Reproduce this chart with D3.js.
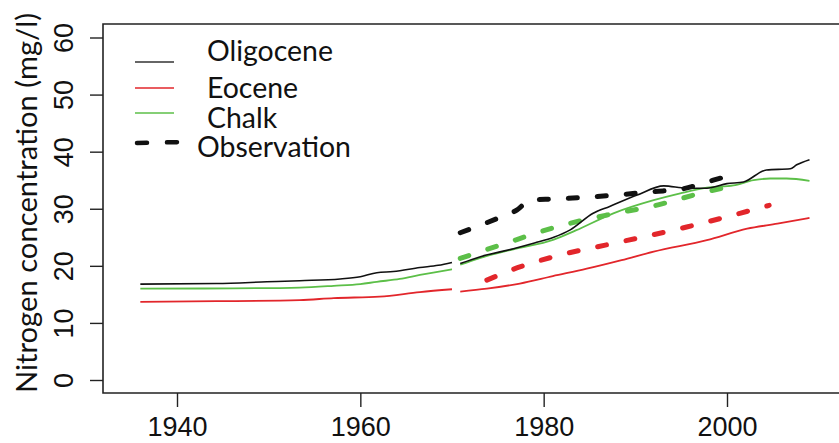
<!DOCTYPE html>
<html>
<head>
<meta charset="utf-8">
<script src="https://cdn.jsdelivr.net/npm/d3@7"></script>
<style>
  html, body { margin: 0; padding: 0; background: #fff; }
  svg { display: block; }
</style>
</head>
<body>
<svg id="chart" width="839" height="443"></svg>
<script>
// ---------- DATA ----------
const seriesNames = ["Oligocene", "Eocene", "Chalk"];
const seriesColors = ["#111111", "#e2262b", "#5cbf48"];

// Model simulations, period 1 (1936-1970)
const oligoceneEarlyYears = [1936, 1944.3, 1949.8, 1953.4, 1957.8, 1960, 1961.8, 1963.6, 1966.5, 1968.5, 1970];
const oligoceneEarly      = [16.8, 16.9, 17.2, 17.4, 17.7, 18.1, 18.8, 19.0, 19.7, 20.1, 20.6];
const eoceneEarlyYears    = [1936, 1944.3, 1953.4, 1957.1, 1962.1, 1966.5, 1970];
const eoceneEarly         = [13.7, 13.8, 14.0, 14.35, 14.6, 15.4, 15.9];
const chalkEarlyYears     = [1936, 1946.1, 1953.4, 1957.1, 1960, 1961.8, 1964.3, 1966.5, 1970];
const chalkEarly          = [16.0, 16.05, 16.2, 16.5, 16.8, 17.2, 17.7, 18.4, 19.4];

// Model simulations, period 2 (1971-2009)
const oligoceneLateYears = [1970.9, 1973.1, 1976.7, 1979.0, 1981.1, 1982.9, 1985.4, 1987.2, 1990.2, 1993.1, 1995.6, 1997.8, 2000.0, 2001.8, 2004.3, 2006.9, 2007.6, 2009.0];
const oligoceneLate      = [20.4, 21.6, 23.0, 24.0, 25.0, 26.3, 29.2, 30.4, 32.4, 34.0, 33.6, 33.6, 34.4, 34.7, 36.8, 37.0, 37.7, 38.6];
const eoceneLateYears    = [1970.9, 1973.8, 1977.4, 1981.0, 1984.7, 1988.5, 1992.0, 1997.8, 2002.2, 2005.5, 2009.0];
const eoceneLate         = [15.5, 16.0, 16.9, 18.2, 19.5, 21.0, 22.5, 24.5, 26.5, 27.4, 28.4];
const chalkLateYears     = [1970.9, 1973.1, 1976.7, 1981.1, 1983.5, 1987.6, 1992.0, 1994.9, 1997.8, 2000.7, 2002.9, 2004.7, 2006.5, 2009.0];
const chalkLate          = [20.2, 21.4, 22.9, 24.6, 26.2, 29.2, 31.5, 32.7, 33.7, 34.1, 35.0, 35.3, 35.3, 34.9];

// Observations (dashed)
const obsOligoceneYears = [1970.9, 1975.4, 1977.1, 1978.5, 1981.1, 1985.4, 1992.0, 1995.2, 1998.5, 2001.0];
const obsOligocene      = [25.8, 28.6, 29.8, 31.5, 31.7, 32.1, 33.0, 33.5, 35.0, 36.1];
const obsEoceneYears    = [1973.8, 1977.4, 1981.1, 1988.4, 1995.6, 2001.4, 2004.6];
const obsEocene         = [17.5, 19.8, 21.6, 24.2, 26.8, 29.2, 30.6];
const obsChalkYears     = [1970.9, 1975.2, 1981.8, 1986.9, 1992.0, 1997.8, 2001.0];
const obsChalk          = [21.3, 23.6, 27.0, 28.9, 30.5, 33.0, 34.1];

const xTicks = [1940, 1960, 1980, 2000];
const yTicks = [0, 10, 20, 30, 40, 50, 60];
const yTitle = "Nitrogen concentration (mg/l)";
const obsLabel = "Observation";

// ---------- LAYOUT ----------
const svg = d3.select("#chart");
const box = { left: 103, top: 24, bottom: 393, right: 850 };
const x = d3.scaleLinear().domain([1940, 2000]).range([177, 727]);
const y = d3.scaleLinear().domain([0, 60]).range([380, 37.5]);
const numFont = "'Liberation Sans', Arial, Helvetica, sans-serif";
const textFont = "Lato, 'Open Sans', sans-serif";

// box (left, top, bottom)
svg.append("path")
  .attr("d", `M${box.right},${box.top}H${box.left}V${box.bottom}H${box.right}`)
  .attr("fill", "none").attr("stroke", "#222").attr("stroke-width", 1.6);

// x axis
const xAxis = svg.append("g")
  .attr("transform", `translate(0,${box.bottom})`)
  .call(d3.axisBottom(x).tickValues(xTicks).tickFormat(d3.format("d")).tickSize(14).tickPadding(10));
xAxis.select(".domain").remove();
xAxis.selectAll(".tick line").attr("stroke", "#222").attr("stroke-width", 1.4);
xAxis.selectAll(".tick text")
  .attr("font-family", numFont).attr("font-size", 27).attr("fill", "#111");

// y axis with rotated labels
const yAxis = svg.append("g")
  .attr("transform", `translate(${box.left},0)`)
  .call(d3.axisLeft(y).tickValues(yTicks).tickSize(13).tickFormat(d3.format("d")));
yAxis.select(".domain").remove();
yAxis.selectAll(".tick line").attr("stroke", "#222").attr("stroke-width", 1.4);
yAxis.selectAll(".tick text")
  .attr("font-family", numFont).attr("font-size", 27).attr("fill", "#111")
  .attr("x", null).attr("dy", null)
  .attr("text-anchor", "middle")
  .attr("transform", "translate(-30,0) rotate(-90)");

// y title
const yt = svg.append("text")
  .attr("transform", `translate(37,203) rotate(-90)`)
  .attr("text-anchor", "middle")
  .attr("font-family", textFont).attr("fill", "#111")
  .attr("font-size", 28)
  .text(yTitle);
{
  const w = yt.node().getComputedTextLength();
  yt.attr("font-size", 28 * 380 / w);
}

// lines
const line = d3.line().x(d => x(d[0])).y(d => y(d[1])).curve(d3.curveMonotoneX);
const zip = (a, b) => a.map((v, i) => [v, b[i]]);

const solid = [
  [oligoceneEarlyYears, oligoceneEarly, 0],
  [oligoceneLateYears, oligoceneLate, 0],
  [eoceneEarlyYears, eoceneEarly, 1],
  [eoceneLateYears, eoceneLate, 1],
  [chalkEarlyYears, chalkEarly, 2],
  [chalkLateYears, chalkLate, 2]
];
const dashed = [
  [obsEoceneYears, obsEocene, 1],
  [obsChalkYears, obsChalk, 2],
  [obsOligoceneYears, obsOligocene, 0]
];

const gSolid = svg.append("g");
[4, 5, 2, 3].forEach(i => {
  const s = solid[i];
  gSolid.append("path").attr("d", line(zip(s[0], s[1])))
    .attr("fill", "none").attr("stroke", seriesColors[s[2]]).attr("stroke-width", 1.8);
});
dashed.forEach(s => {
  svg.append("path").attr("d", line(zip(s[0], s[1])))
    .attr("fill", "none").attr("stroke", seriesColors[s[2]])
    .attr("stroke-width", 5).attr("stroke-linecap", "round")
    .attr("stroke-dasharray", "9,20");
});
[0, 1].forEach(i => {
  const s = solid[i];
  svg.append("path").attr("d", line(zip(s[0], s[1])))
    .attr("fill", "none").attr("stroke", seriesColors[s[2]]).attr("stroke-width", 1.6);
});

// legend
const legY = [62, 88, 113];
const legTextY = [61, 98, 128];
seriesNames.forEach((n, i) => {
  svg.append("line").attr("x1", 135).attr("x2", 174).attr("y1", legY[i]).attr("y2", legY[i])
    .attr("stroke", i === 0 ? "#333" : seriesColors[i]).attr("stroke-width", 1.6);
});
const legTexts = [];
seriesNames.forEach((n, i) => {
  legTexts.push(svg.append("text").attr("x", 207).attr("y", legTextY[i])
    .attr("font-family", textFont).attr("font-size", 26).attr("fill", "#111").text(n));
});
svg.append("line").attr("x1", 137).attr("x2", 183).attr("y1", 143).attr("y2", 142)
  .attr("stroke", "#111").attr("stroke-width", 4.5).attr("stroke-linecap", "round")
  .attr("stroke-dasharray", "10,20");
const obsT = svg.append("text").attr("x", 197).attr("y", 157)
  .attr("font-family", textFont).attr("font-size", 26).attr("fill", "#111").text(obsLabel);
{
  const w = obsT.node().getComputedTextLength();
  const fs = 26 * 154 / w;
  obsT.attr("font-size", fs);
  legTexts.forEach(t => t.attr("font-size", fs));
}
</script>
</body>
</html>
